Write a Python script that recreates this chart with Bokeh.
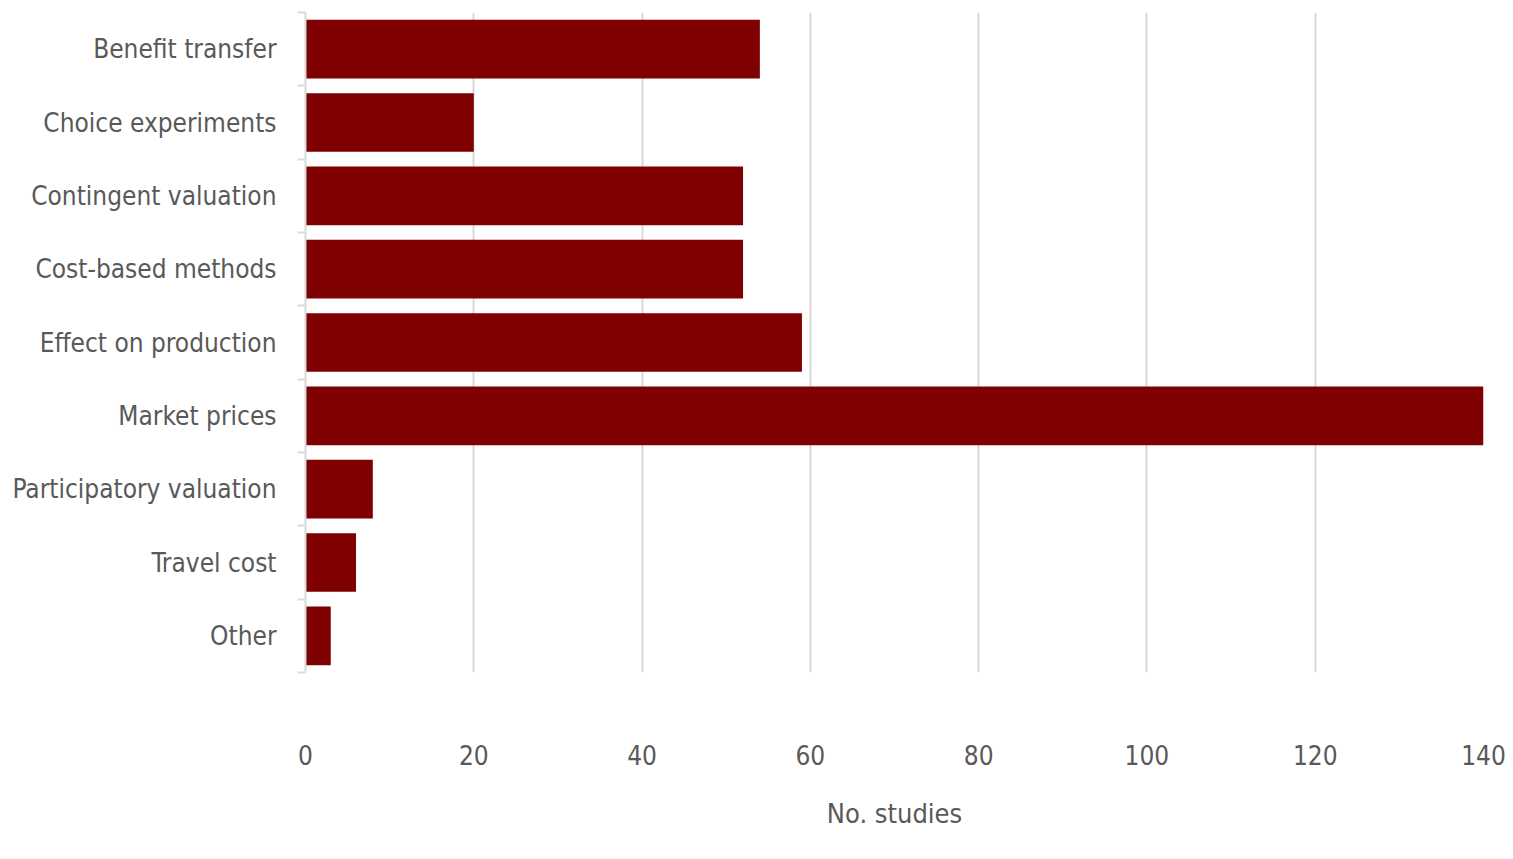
from bokeh.plotting import figure
from bokeh.models import ColumnDataSource, FixedTicker, Range1d
from bokeh.embed import file_html
from bokeh.resources import INLINE

categories = ["Benefit transfer", "Choice experiments", "Contingent valuation",
              "Cost-based methods", "Effect on production", "Market prices",
              "Participatory valuation", "Travel cost", "Other"]
studies = [54, 20, 52, 52, 59, 140, 8, 6, 3]
x_ticks = [0, 20, 40, 60, 80, 100, 120, 140]

centers = [i + 0.5 for i in range(len(categories))]
bounds = list(range(len(categories) + 1))
src = ColumnDataSource(dict(cat=categories, n=studies, y=centers))

FONT = "DejaVu Sans Condensed"
TXT = "#595959"
GRID = "#d9d9d9"

p = figure(width=1513, height=859, y_range=Range1d(len(categories), 0),
           x_range=(0, 140), output_backend="svg", toolbar_location=None,
           min_border_left=305, min_border_right=30, min_border_top=12,
           min_border_bottom=187, background_fill_color="white",
           border_fill_color="white", outline_line_color=None)

p.hbar(y="y", right="n", left=0, height=0.8, source=src,
       fill_color="#7f0000", line_color=None)

p.xaxis.ticker = x_ticks
p.xaxis.axis_line_color = None
p.xaxis.major_tick_line_color = None
p.xaxis.minor_tick_line_color = None
p.xaxis.major_label_standoff = 66
p.xaxis.major_label_text_font = FONT
p.xaxis.major_label_text_font_size = "26px"
p.xaxis.major_label_text_color = TXT
p.xaxis.axis_label = "No. studies"
p.xaxis.axis_label_text_font = FONT
p.xaxis.axis_label_text_font_size = "27px"
p.xaxis.axis_label_text_font_style = "normal"
p.xaxis.axis_label_text_color = TXT
p.xaxis.axis_label_standoff = 30

p.yaxis.ticker = FixedTicker(ticks=centers, minor_ticks=bounds)
p.yaxis.major_label_overrides = {c: name for c, name in zip(centers, categories)}
p.yaxis.axis_line_color = GRID
p.yaxis.axis_line_width = 2
p.yaxis.major_tick_line_color = None
p.yaxis.minor_tick_line_color = GRID
p.yaxis.minor_tick_line_width = 2
p.yaxis.minor_tick_out = 8
p.yaxis.minor_tick_in = 0
p.yaxis.major_label_standoff = 21
p.yaxis.major_label_text_font = FONT
p.yaxis.major_label_text_font_size = "26px"
p.yaxis.major_label_text_color = TXT

p.xgrid.grid_line_color = GRID
p.xgrid.grid_line_width = 2
p.ygrid.grid_line_color = None

open("out.html", "w").write(file_html(p, INLINE))
